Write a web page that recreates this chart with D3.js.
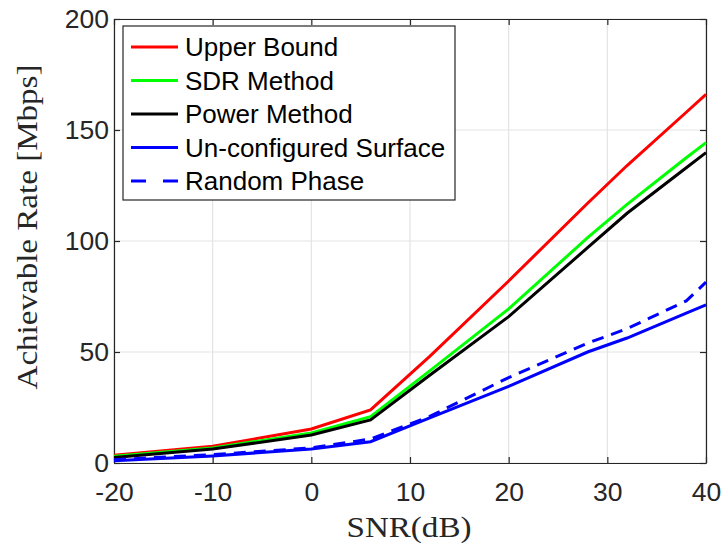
<!DOCTYPE html>
<html>
<head>
<meta charset="utf-8">
<script src="https://cdn.jsdelivr.net/npm/d3@7"></script>
<style>
  body { margin: 0; background: #fff; }
  .tick text { font-family: "Liberation Sans", Arial, sans-serif; font-size: 26.5px; fill: #262626; }
  .axis-label { font-family: "Liberation Serif", "Times New Roman", serif; font-size: 30px; fill: #262626; }
  .legend-text { font-family: "Liberation Sans", Arial, sans-serif; font-size: 26px; fill: #000; }
</style>
</head>
<body>
<div class="container"></div>
<script>
const snr = [-20, -10, 0, 6, 12, 20, 28, 32, 38, 40];

const upperBound   = [3.5, 7.5, 15.3, 23.9, 48, 82, 117, 134, 158, 166];
const sdrMethod    = [3.0, 6.8, 13.5, 20.9, 41.5, 69.4, 101.5, 116.5, 137.5, 144.3];
const powerMethod  = [2.5, 6.3, 12.6, 19.4, 39.5, 65.9, 97, 112.5, 133, 139.8];
const unconfigured = [1.0, 3.2, 6.3, 9.6, 20.3, 34.5, 50, 56.3, 67.5, 71.2];
const randomPhase  = [1.5, 3.8, 6.8, 10.8, 21, 38.5, 54, 60.5, 73, 81.5];

const seriesNames = ["Upper Bound", "SDR Method", "Power Method", "Un-configured Surface", "Random Phase"];
const xTicks = [-20, -10, 0, 10, 20, 30, 40];
const yTicks = [0, 50, 100, 150, 200];

const series = [
  {name: seriesNames[0], values: upperBound,   color: "#ff0000", dash: null},
  {name: seriesNames[1], values: sdrMethod,    color: "#00ff00", dash: null},
  {name: seriesNames[2], values: powerMethod,  color: "#000000", dash: null},
  {name: seriesNames[3], values: unconfigured, color: "#0000ff", dash: null},
  {name: seriesNames[4], values: randomPhase,  color: "#0000ff", dash: "12,8"}
];

const margin = {top: 19, right: 20, bottom: 85, left: 114};
const width = 726 - margin.left - margin.right;
const height = 548 - margin.top - margin.bottom;

const svg = d3.select(".container")
                .append("svg")
                  .attr("width", 726)
                  .attr("height", 548)
                .append("g")
                  .attr("transform", "translate(" + margin.left + "," + margin.top + ")");

const x = d3.scaleLinear().domain([-20, 40]).range([0, width]);
const y = d3.scaleLinear().domain([0, 200]).range([height, 0]);

// grid
svg.append("g")
  .selectAll("line.vgrid")
  .data(xTicks)
  .join("line")
    .attr("x1", d => x(d)).attr("x2", d => x(d))
    .attr("y1", 0).attr("y2", height)
    .attr("stroke", "#e3e3e3").attr("stroke-width", 1.2);

svg.append("g")
  .selectAll("line.hgrid")
  .data(yTicks)
  .join("line")
    .attr("x1", 0).attr("x2", width)
    .attr("y1", d => y(d)).attr("y2", d => y(d))
    .attr("stroke", "#e3e3e3").attr("stroke-width", 1.2);

// axes (plain hyphen minus like the original)
const fmt = d => String(d);

const xAxis = svg.append("g")
  .attr("transform", "translate(0," + height + ")")
  .call(d3.axisBottom(x).tickValues(xTicks).tickFormat(fmt).tickSizeInner(-6).tickSizeOuter(0).tickPadding(19));
const yAxis = svg.append("g")
  .call(d3.axisLeft(y).tickValues(yTicks).tickFormat(fmt).tickSizeInner(-6).tickSizeOuter(0).tickPadding(5));
svg.append("g")
  .call(d3.axisTop(x).tickValues(xTicks).tickSizeInner(-6).tickSizeOuter(0).tickFormat(""));
svg.append("g")
  .attr("transform", "translate(" + width + ",0)")
  .call(d3.axisRight(y).tickValues(yTicks).tickSizeInner(-6).tickSizeOuter(0).tickFormat(""));

svg.selectAll(".domain").attr("stroke", "#262626").attr("stroke-width", 1.2);
svg.selectAll(".tick line").attr("stroke", "#262626").attr("stroke-width", 1.2);

xAxis.selectAll(".tick text").attr("dy", "0.71em");

// lines
const line = d3.line()
  .x((d, i) => x(snr[i]))
  .y(d => y(d));

svg.append("g")
  .selectAll("path.series")
  .data(series)
  .join("path")
    .attr("class", "series")
    .attr("fill", "none")
    .attr("stroke", d => d.color)
    .attr("stroke-width", 3)
    .attr("stroke-dasharray", d => d.dash)
    .attr("d", d => line(d.values));

// axis labels
svg.append("text")
  .attr("class", "axis-label")
  .attr("x", 296 - margin.left + 113)
  .attr("y", height + 74)
  .attr("text-anchor", "middle")
  .attr("textLength", 125)
  .attr("lengthAdjust", "spacingAndGlyphs")
  .text("SNR(dB)");

svg.append("text")
  .attr("class", "axis-label")
  .attr("transform", "translate(" + (-77) + "," + (227 - margin.top) + ") rotate(-90)")
  .attr("text-anchor", "middle")
  .attr("textLength", 325)
  .attr("lengthAdjust", "spacingAndGlyphs")
  .text("Achievable Rate [Mbps]");

// legend
const legend = svg.append("g")
  .attr("transform", "translate(9, 7)");

legend.append("rect")
  .attr("width", 332)
  .attr("height", 174)
  .attr("fill", "#fff")
  .attr("stroke", "#262626")
  .attr("stroke-width", 1.2);

const rows = legend.selectAll("g.row")
  .data(series)
  .join("g")
    .attr("class", "row")
    .attr("transform", (d, i) => "translate(0," + (21 + i * 33.5) + ")");

rows.append("line")
  .attr("x1", 8).attr("x2", 55)
  .attr("stroke", d => d.color)
  .attr("stroke-width", 3)
  .attr("stroke-dasharray", d => d.dash ? "15,17" : null);

rows.append("text")
  .attr("class", "legend-text")
  .attr("x", 62)
  .attr("dy", "0.36em")
  .text(d => d.name);
</script>
</body>
</html>
